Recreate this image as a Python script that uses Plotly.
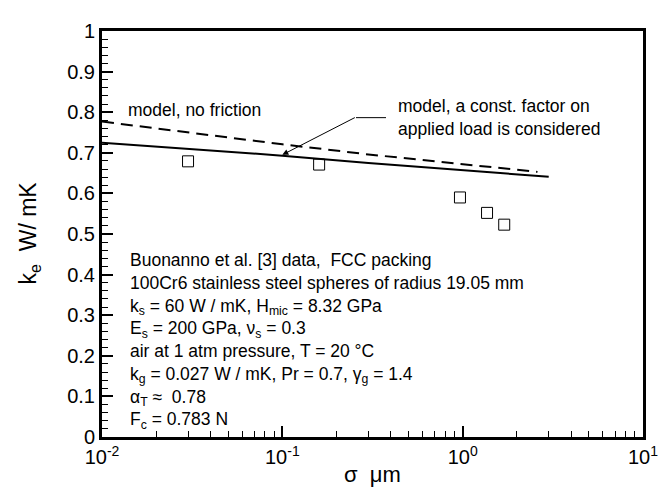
import plotly.graph_objects as go
import numpy as np

# Data
sigma_data = [0.030, 0.16, 0.966, 1.365, 1.70]
ke_data = [0.679, 0.671, 0.590, 0.552, 0.523]

sigma_model = [0.01, 0.03, 0.1, 0.3, 1.0, 3.0]
ke_model_const = [0.725, 0.709, 0.693, 0.675, 0.657, 0.641]

sigma_nofric = [0.01, 0.03, 0.1, 0.3, 1.0, 2.6]
ke_nofric = [0.777, 0.750, 0.721, 0.696, 0.672, 0.653]

y_ticks = [0, 0.1, 0.2, 0.3, 0.4, 0.5, 0.6, 0.7, 0.8, 0.9, 1]
y_ticklabels = ["0", "0.1", "0.2", "0.3", "0.4", "0.5", "0.6", "0.7", "0.8", "0.9", "1"]
x_ticks = [0.01, 0.1, 1, 10]
x_ticklabels = ["10<sup>-2</sup>", "10<sup>-1</sup>", "10<sup>0</sup>", "10<sup>1</sup>"]

FONT = "Liberation Sans, Arial, sans-serif"

fig = go.Figure()
fig.add_trace(go.Scatter(x=sigma_nofric, y=ke_nofric, mode="lines",
                         line=dict(color="black", width=2, dash="12px,7px"), showlegend=False))
fig.add_trace(go.Scatter(x=sigma_model, y=ke_model_const, mode="lines",
                         line=dict(color="black", width=2), showlegend=False))
fig.add_trace(go.Scatter(x=sigma_data, y=ke_data, mode="markers",
                         marker=dict(symbol="square-open", size=11, color="black",
                                     line=dict(width=1, color="black")), showlegend=False))

minor_x = [k * 10.0**e for e in (-2, -1, 0) for k in range(2, 10)]

fig.update_layout(
    width=671, height=487,
    margin=dict(l=94, r=36, t=12, b=58),
    plot_bgcolor="white", paper_bgcolor="white",
    font=dict(family=FONT, color="black"),
    xaxis=dict(type="log", range=[-2, 1], showgrid=False, zeroline=False,
               showline=True, linecolor="black", linewidth=3, mirror=True,
               ticks="inside", ticklen=11, tickwidth=2, tickcolor="black",
               tickvals=x_ticks, ticktext=x_ticklabels,
               tickfont=dict(size=20, family=FONT),
               minor=dict(ticks="inside", ticklen=6, tickwidth=1, tickcolor="black",
                          tickvals=minor_x, showgrid=False)),
    yaxis=dict(range=[0, 1], showgrid=False, zeroline=False,
               showline=True, linecolor="black", linewidth=3, mirror=True,
               ticks="inside", ticklen=11, tickwidth=2, tickcolor="black",
               tickvals=y_ticks, ticktext=y_ticklabels,
               tickfont=dict(size=20, family=FONT),
               minor=dict(ticks="inside", ticklen=6, tickwidth=1, tickcolor="black",
                          dtick=0.02, showgrid=False)),
)

info = ("Buonanno et al. [3] data,  FCC packing<br>"
        "100Cr6 stainless steel spheres of radius 19.05 mm<br>"
        "k<sub>s</sub> = 60 W / mK, H<sub>mic</sub> = 8.32 GPa<br>"
        "E<sub>s</sub> = 200 GPa, ν<sub>s</sub> = 0.3<br>"
        "air at 1 atm pressure, T = 20 °C<br>"
        "k<sub>g</sub> = 0.027 W / mK, Pr = 0.7, γ<sub>g</sub> = 1.4<br>"
        "α<sub>T</sub> ≈  0.78<br>"
        "F<sub>c</sub> = 0.783 N")

W, H = 541.0, 417.0
def px(x):
    return (x - 94) / W
def py(y):
    return (429 - y) / H

# axis titles
fig.add_annotation(text="σ  μm", xref="paper", yref="paper", x=px(364), y=py(468),
                   xanchor="center", yanchor="middle", showarrow=False,
                   font=dict(size=22, family=FONT))
fig.add_annotation(text="k<sub>e</sub>  W/ mK", xref="paper", yref="paper", x=px(22), y=py(220),
                   xanchor="center", yanchor="middle", showarrow=False, textangle=-90,
                   font=dict(size=23, family=FONT))

fig.add_annotation(text=info, xref="paper", yref="paper", x=px(120), y=py(330),
                   xanchor="left", yanchor="middle", align="left", showarrow=False,
                   font=dict(size=17.5, family=FONT))
fig.add_annotation(text="model, no friction", xref="paper", yref="paper", x=px(118), y=py(93),
                   xanchor="left", yanchor="middle", align="left", showarrow=False,
                   font=dict(size=17.5, family=FONT))
fig.add_annotation(text="model, a const. factor on<br>applied load is considered",
                   xref="paper", yref="paper", x=px(388), y=py(101),
                   xanchor="left", yanchor="middle", align="left", showarrow=False,
                   font=dict(size=17.5, family=FONT))
# arrow
fig.add_annotation(text="", xref="x", yref="y", x=-1.0, y=0.695,
                   ax=74, ay=-38, showarrow=True, arrowhead=2, arrowsize=1.2,
                   arrowwidth=1, arrowcolor="black")
fig.add_shape(type="line", xref="paper", yref="paper", x0=px(348), y0=py(101),
              x1=px(378), y1=py(101), line=dict(color="black", width=1))

fig.write_html("out.html")
